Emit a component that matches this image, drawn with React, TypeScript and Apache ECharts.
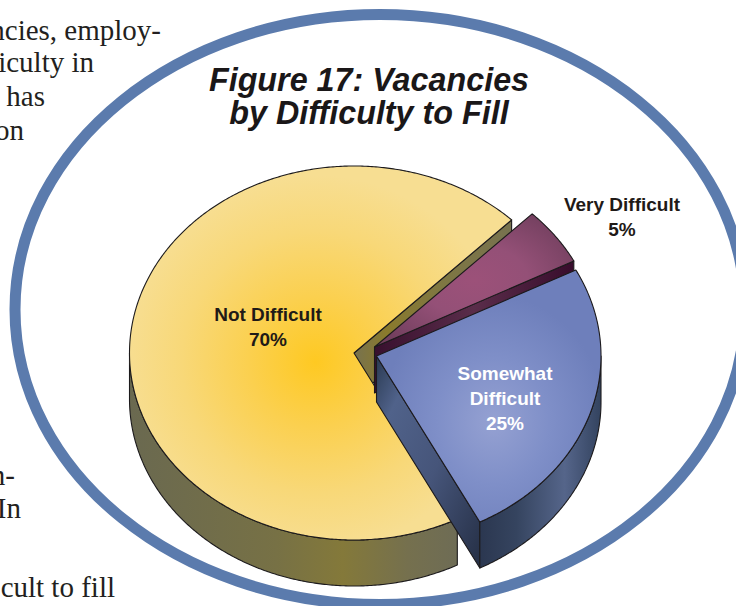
import React, { useEffect, useRef } from "react";
import * as echarts from "echarts";

const categories = ["Not Difficult", "Very Difficult", "Somewhat Difficult"];
const values = [70, 5, 25];
const sliceLabels = ["Not Difficult\n70%", "Very Difficult\n5%", "Somewhat\nDifficult\n25%"];
const titleLines = "Figure 17: Vacancies\nby Difficulty to Fill";
const bodyLines = ["ncies, employ-", "iculty in", "has", "on", "n-", "In", "cult to fill"];

const bodyX = [161, 94, 45, 24, 15, 21, 115];
const bodyY = [30, 62, 96, 130, 475, 508, 587];

const START_DEG = -62.6; // math angle, slices run clockwise
const RX = 224.5;
const RY = 187;
const DEPTH = 46;
const centers = [[354, 353], [374.5, 347], [376.5, 356]];
const labelPos = [[268, 327], [622, 217], [505, 398]];
const labelColor = ["#1f1a17", "#1f1a17", "#ffffff"];
const OUTLINE = "#1c1a1c";

const lin = (stops: [number, string][], x2 = 1, y2 = 0) =>
  new echarts.graphic.LinearGradient(0, 0, x2, y2, stops.map(([offset, color]) => ({ offset, color })));
const rad = (x: number, y: number, r: number, stops: [number, string][]) =>
  new echarts.graphic.RadialGradient(x, y, r, stops.map(([offset, color]) => ({ offset, color })));

const topFill = [
  rad(0.487, 0.524, 0.5, [[0, "#fec922"], [0.35, "#fbd04f"], [0.7, "#f8d878"], [1, "#f7de92"]]),
  rad(0.5, 0.5, 0.6, [[0, "#9c5179"], [0.45, "#945077"], [1, "#723f5e"]]),
  rad(0.52, 0.6, 0.5, [[0, "#95a1d2"], [0.5, "#7f8fc8"], [1, "#6e7fbb"]]),
];
const wallFill = [
  lin([[0, "#6a6950"], [0.45, "#777145"], [0.65, "#84793a"], [0.85, "#75704e"], [1, "#6e6c55"]]),
  lin([[0, "#3c0f30"], [1, "#3c0f30"]]),
  lin([[0, "#2b3750"], [0.3, "#35445f"], [0.7, "#55658a"], [1, "#33435f"]]),
];
const faceFill = [
  lin([[0, "#77724f"], [0.2, "#8a7a2c"], [0.55, "#7f7742"], [1, "#77724f"]]),
  lin([[0, "#38102e"], [0.5, "#5a2d4a"], [1, "#380c2c"]]),
  lin([[0, "#2a3a52"], [0.2, "#50628a"], [0.55, "#46557a"], [1, "#252f45"]], 1, 1),
];

const rim = (c: number[], from: number, to: number, dy = 0) => {
  const pts: number[][] = [];
  const n = Math.max(2, Math.ceil(Math.abs(to - from) * 2));
  for (let i = 0; i <= n; i++) {
    const t = ((from + ((to - from) * i) / n) * Math.PI) / 180;
    pts.push([c[0] + RX * Math.cos(t), c[1] - RY * Math.sin(t) + dy]);
  }
  return pts;
};

const renderSlice = (params: any, api: any) => {
  const i = params.dataIndex;
  const total = values.reduce((a, b) => a + b, 0);
  const before = values.slice(0, i).reduce((a, b) => a + b, 0);
  const a0 = START_DEG - (before / total) * 360; // clockwise start
  const a1 = a0 - (api.value(0) / total) * 360; // clockwise end
  const c = centers[i];
  const base = { stroke: OUTLINE, lineWidth: 1.1, lineJoin: "round" as const };
  const children: any[] = [];

  // cut face at the clockwise end of each slice, which looks towards the viewer
  const e = rim(c, a1, a1)[0];
  children.push({
    type: "polygon",
    shape: { points: [c, e, [e[0], e[1] + DEPTH], [c[0], c[1] + DEPTH]] },
    style: { ...base, fill: faceFill[i] },
  });

  // outer wall: the part of the rim whose surface faces down (sin < 0)
  const wall = i === 0 ? [a0, -180] : i === 2 ? [-360, a1] : null;
  if (wall) {
    const up = rim(c, wall[0], wall[1]);
    const down = rim(c, wall[1], wall[0], DEPTH);
    children.push({ type: "polygon", shape: { points: [...up, ...down] }, style: { ...base, fill: wallFill[i] } });
  }

  children.push({
    type: "polygon",
    shape: { points: [c, ...rim(c, a0, a1)] },
    style: { ...base, fill: topFill[i] },
  });

  children.push({
    type: "text",
    x: labelPos[i][0],
    y: labelPos[i][1],
    silent: true,
    style: {
      text: sliceLabels[i],
      fill: labelColor[i],
      font: "bold 19px 'Liberation Sans'",
      textAlign: "center",
      textVerticalAlign: "middle",
      lineHeight: 25,
    },
  });
  return { type: "group", children };
};

export default function App() {
  const ref = useRef<HTMLDivElement>(null);
  useEffect(() => {
    const chart = echarts.init(ref.current!, null, { renderer: "svg" });
    chart.setOption({
      animation: false,
      backgroundColor: "#ffffff",
      graphic: [
        {
          type: "ellipse",
          z: 0,
          shape: { cx: 380, cy: 309.5, rx: 365, ry: 295 },
          style: { fill: "none", stroke: "#5b7bad", lineWidth: 11 },
        },
        ...bodyLines.map((t, k) => ({
          type: "text",
          x: bodyX[k],
          y: bodyY[k],
          z: 1,
          style: {
            text: t,
            fill: "#231f20",
            font: "29px 'Liberation Serif'",
            textAlign: "right",
            textVerticalAlign: "middle",
          },
        })),
        {
          type: "text",
          x: 369,
          y: 96,
          z: 1,
          style: {
            text: titleLines,
            fill: "#1a1718",
            font: "italic bold 32.3px 'Liberation Sans'",
            textAlign: "center",
            textVerticalAlign: "middle",
            lineHeight: 33,
          },
        },
      ],
      series: [
        {
          type: "custom",
          coordinateSystem: "none",
          renderItem: renderSlice,
          data: categories.map((name, k) => ({ name, value: [values[k]] })),
          z: 2,
        },
      ],
    });
    return () => chart.dispose();
  }, []);
  return <div ref={ref} style={{ position: "absolute", left: 0, top: 0, width: 736, height: 606, overflow: "hidden" }} />;
}
